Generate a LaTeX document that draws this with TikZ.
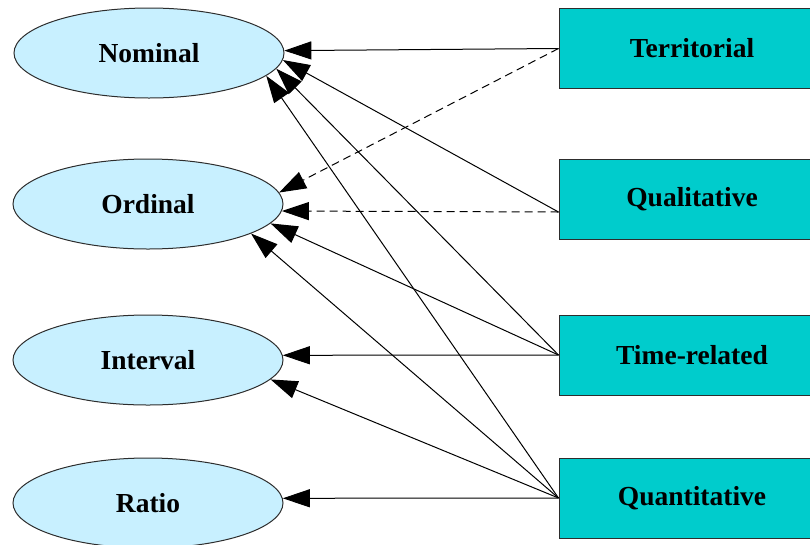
\documentclass[tikz,border=0pt]{standalone}
\usepackage{fontspec}
\setmainfont{Liberation Serif}
\usetikzlibrary{shapes.geometric,arrows.meta}
\definecolor{scalefill}{RGB}{200,240,255}
\definecolor{typefill}{RGB}{0,204,204}
\definecolor{edgegray}{RGB}{45,45,45}
\begin{document}
\begin{tikzpicture}[x=1pt,y=-1pt,
  labelfont/.style={font=\fontsize{27.5}{31}\selectfont\bfseries},
  scalenode/.style={ellipse, draw=edgegray, line width=1pt, fill=scalefill,
    minimum width=270pt, minimum height=90pt, inner sep=0pt, labelfont},
  typenode/.style={rectangle, draw=edgegray, line width=1pt, fill=typefill,
    minimum width=266pt, minimum height=80pt, inner sep=0pt, labelfont},
  link/.style={line width=1pt, draw=black, -{Triangle[length=27pt,width=18pt]}},
  weaklink/.style={link, dash pattern=on 8pt off 5pt}]
\useasboundingbox (0,0) rectangle (810,544);
\clip (0,0) rectangle (810,544);

% measurement scales
\node[scalenode] (nominal)  at (149,53)  {Nominal};
\node[scalenode] (ordinal)  at (148,204) {Ordinal};
\node[scalenode] (interval) at (148,360) {Interval};
\node[scalenode] (ratio)    at (148,503) {Ratio};

% data types
\node[typenode] (territorial)  at (692,48.5) {Territorial};
\node[typenode] (qualitative)  at (692,199)  {Qualitative};
\node[typenode] (timerelated)  at (692,355)  {Time-related};
\node[typenode] (quantitative) at (692,498)  {Quantitative};

\coordinate (qualsrc) at ([yshift=-13pt]qualitative.west);

% territorial
\draw[link]     (territorial.west) -- (nominal.1.9);
\draw[weaklink] (territorial.west) -- (ordinal.5.3);
% qualitative
\draw[link]     (qualsrc) -- (nominal.-3.9);
\draw[weaklink] (qualsrc) -- (ordinal.-3.4);
% time-related
\draw[link] (timerelated.west) -- (nominal.-7.7);
\draw[link] (timerelated.west) -- (ordinal.-9);
\draw[link] (timerelated.west) -- (interval.2.1);
% quantitative
\draw[link] (quantitative.west) -- (nominal.-11.2);
\draw[link] (quantitative.west) -- (ordinal.-16.6);
\draw[link] (quantitative.west) -- (interval.-9);
\draw[link] (quantitative.west) -- (ratio.2.1);
\end{tikzpicture}
\end{document}
